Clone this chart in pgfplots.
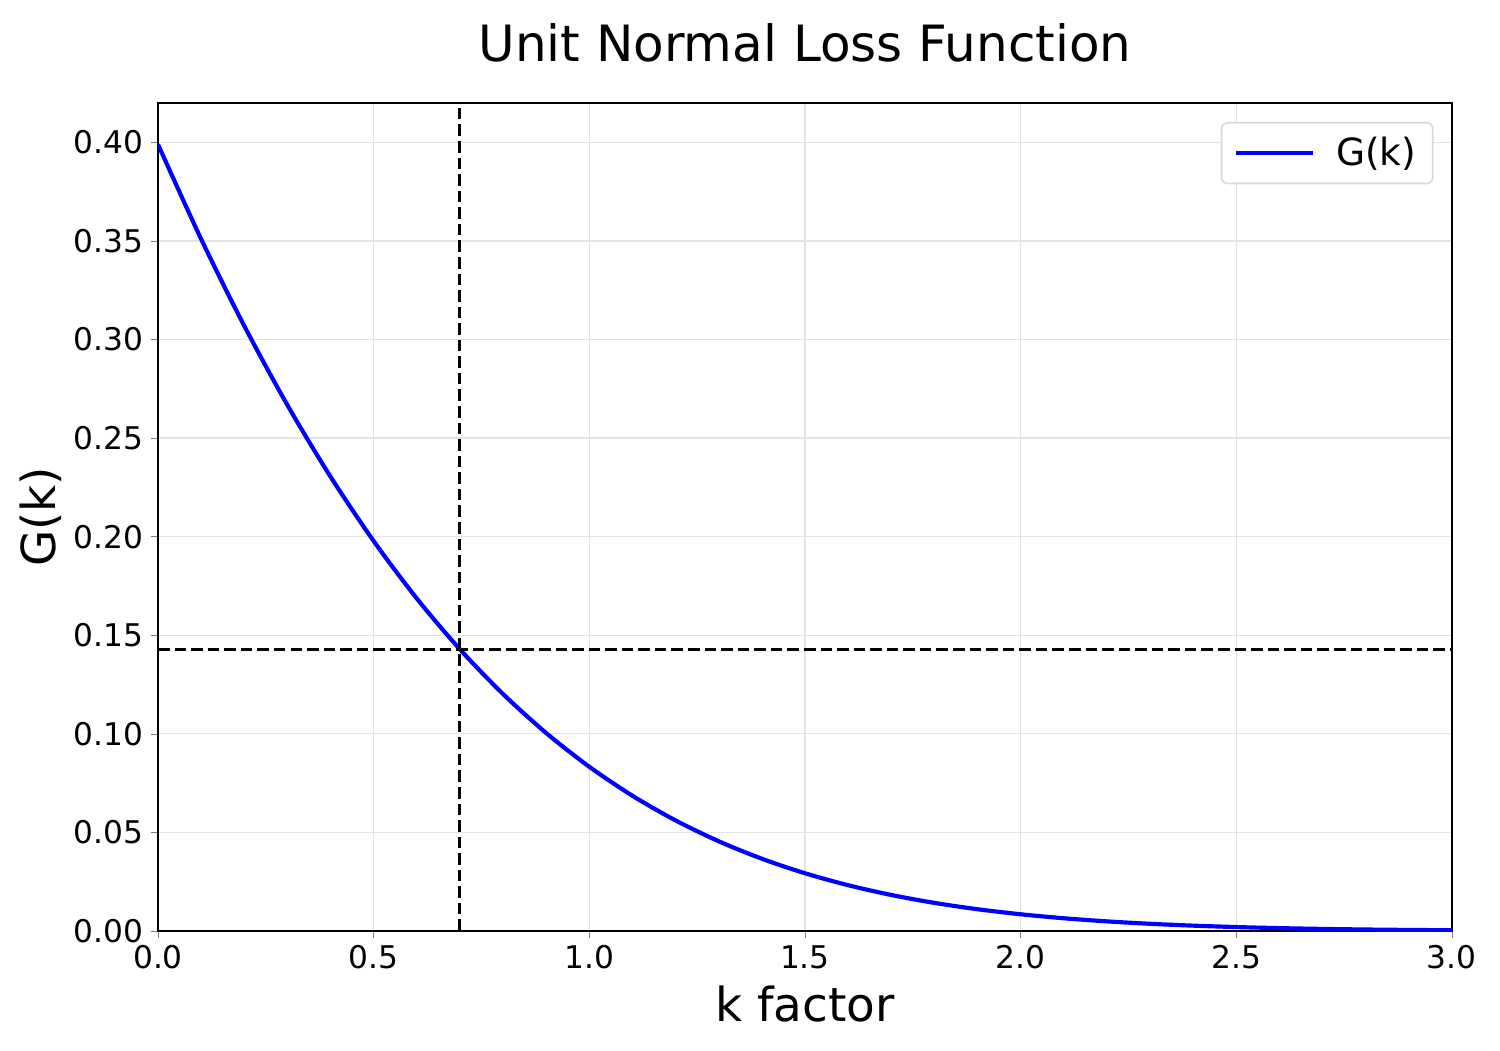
\documentclass[border=0pt]{standalone}
\usepackage{pgfplots}
\pgfplotsset{compat=1.18}
\usepackage{fontspec}
\setmainfont{DejaVu Sans}
\begin{document}
\begin{tikzpicture}
\begin{axis}[
  scale only axis,
  width=621pt, height=397.5pt,
  xmin=0, xmax=3, ymin=0, ymax=0.42,
  xtick={0,0.5,1,1.5,2,2.5,3},
  ytick={0,0.05,0.1,0.15,0.2,0.25,0.3,0.35,0.4},
  xticklabel style={/pgf/number format/.cd,fixed,fixed zerofill,precision=1},
  yticklabel style={/pgf/number format/.cd,fixed,fixed zerofill,precision=2},
  /pgf/number format/assume math mode=true,
  tick label style={font=\fontsize{15}{17}\selectfont},
  tick align=outside, major tick length=3.5pt,
  xtick pos=bottom, ytick pos=left,
  grid=major, major grid style={gray!22, line width=0.6pt},
  axis line style={line width=0.8pt},
  title={Unit Normal Loss Function},
  title style={font=\fontsize{24}{28}\selectfont, yshift=10pt},
  xlabel={k factor}, ylabel={G(k)},
  label style={font=\fontsize{22.5}{26}\selectfont},
  xlabel style={yshift=-1pt},
  ylabel style={yshift=-1pt},
  legend style={font=\fontsize{18}{21}\selectfont, draw=gray!30, line width=0.8pt, rounded corners=3pt, inner xsep=6pt, inner ysep=5pt, column sep=8pt, at={(0.986,0.977)}, anchor=north east},
  legend image code/.code={\draw[#1] (0pt,0pt) -- (37pt,0pt);},
  legend cell align=left,
]
\addplot[blue, line width=2pt, smooth] coordinates {
(0,0.398942)(0.1,0.350936)(0.2,0.306895)(0.3,0.266761)(0.4,0.230439)
(0.5,0.197796)(0.6,0.168673)(0.7,0.142879)(0.8,0.120208)(0.9,0.100431)
(1.0,0.083316)(1.1,0.068619)(1.2,0.056102)(1.3,0.045529)(1.4,0.036667)
(1.5,0.029307)(1.6,0.023243)(1.7,0.018288)(1.8,0.014276)(1.9,0.011054)
(2.0,0.008491)(2.1,0.006470)(2.2,0.004888)(2.3,0.003662)(2.4,0.002720)
(2.5,0.002003)(2.6,0.001464)(2.7,0.001060)(2.8,0.000761)(2.9,0.000542)
(3.0,0.000382)};
\addlegendentry{G(k)}
\addplot[black, line width=1.5pt, dash pattern=on 5.55pt off 2.4pt, forget plot] coordinates {(0.7,0)(0.7,0.42)};
\addplot[black, line width=1.5pt, dash pattern=on 5.55pt off 2.4pt, forget plot] coordinates {(0,0.142879)(3,0.142879)};
\end{axis}
\pgfresetboundingbox
\useasboundingbox (current axis.south west) ++(-75.84pt,-57.12pt) rectangle ++(720pt,504pt);
\end{tikzpicture}
\end{document}
